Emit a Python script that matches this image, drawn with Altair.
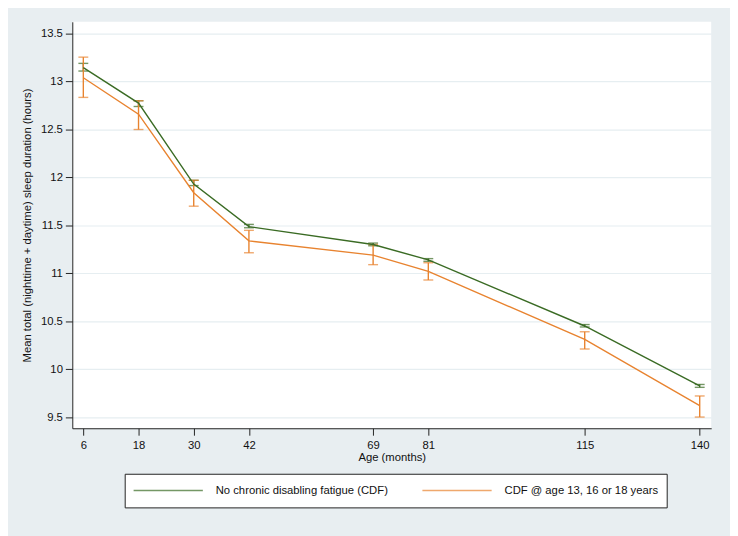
import altair as alt
import pandas as pd

ages = [6, 18, 30, 42, 69, 81, 115, 140]

no_cdf_mean = [13.145, 12.776, 11.93, 11.487, 11.30, 11.14, 10.45, 9.825]
no_cdf_lo = [13.11, 12.74, 11.915, 11.475, 11.287, 11.125, 10.44, 9.81]
no_cdf_hi = [13.19, 12.80, 11.97, 11.51, 11.315, 11.153, 10.465, 9.84]

cdf_mean = [13.04, 12.66, 11.84, 11.338, 11.19, 11.02, 10.31, 9.62]
cdf_lo = [12.835, 12.50, 11.70, 11.214, 11.09, 10.93, 10.21, 9.50]
cdf_hi = [13.255, 12.80, 11.97, 11.448, 11.30, 11.11, 10.39, 9.72]

groups = ["No chronic disabling fatigue (CDF)", "CDF @ age 13, 16 or 18 years"]
colors = ["#3a6b24", "#e8832f"]

x_ticks = ages
y_ticks = [9.5, 10, 10.5, 11, 11.5, 12, 12.5, 13, 13.5]

rows = []
for i, a in enumerate(ages):
    rows.append({"age": a, "group": groups[0],
                 "mean": no_cdf_mean[i], "lo": no_cdf_lo[i], "hi": no_cdf_hi[i]})
for i, a in enumerate(ages):
    rows.append({"age": a, "group": groups[1],
                 "mean": cdf_mean[i], "lo": cdf_lo[i], "hi": cdf_hi[i]})
df = pd.DataFrame(rows)

FONT = "Liberation Sans"
FS = 11.4
YTITLE = "Mean total (nighttime + daytime) sleep duration (hours)"

xscale = alt.Scale(domain=[3.6, 142.5], nice=False, zero=False)
yscale = alt.Scale(domain=[9.383, 13.624], nice=False, zero=False)
cscale = alt.Scale(domain=groups, range=colors)

xaxis = alt.Axis(values=x_ticks, title="Age (months)", grid=False,
                 tickSize=7, labelPadding=4, titlePadding=1,
                 domainColor="#222222", tickColor="#222222",
                 labelColor="#111111", titleColor="#111111",
                 labelFontSize=FS, titleFontSize=FS, labelFont=FONT,
                 titleFont=FONT, titleFontWeight="normal",
                 labelFlush=False, labelOverlap=False)

yaxis = alt.Axis(values=y_ticks, format="~g", title=YTITLE,
                 grid=True, gridColor="#e6eef1", gridWidth=1.2,
                 tickSize=7, labelPadding=3, titlePadding=8,
                 domainColor="#222222", tickColor="#222222",
                 labelColor="#111111", titleColor="#111111",
                 labelFontSize=FS, titleFontSize=FS, labelFont=FONT,
                 titleFont=FONT, titleFontWeight="normal",
                 labelFlush=False, labelOverlap=False)

legend = alt.Legend(title=None, orient="none", legendX=53, legendY=457,
                    direction="horizontal", columns=2, columnPadding=33,
                    symbolType="stroke", symbolSize=4900, symbolStrokeWidth=1.5,
                    clipHeight=18,
                    labelOffset=12, labelFontSize=FS, labelFont=FONT,
                    labelColor="#111111", labelLimit=400,
                    fillColor="white", strokeColor="#222222", padding=8)

color = alt.Color("group:N", scale=cscale, sort=groups, legend=legend)

base = alt.Chart(df)

bars = base.mark_errorbar(ticks={"size": 10}, thickness=1.4).encode(
    x=alt.X("age:Q", scale=xscale, axis=xaxis),
    y=alt.Y("lo:Q", scale=yscale, axis=yaxis, title=YTITLE),
    y2="hi:Q",
    color=color,
)

lines = base.mark_line(strokeWidth=1.4).encode(
    x=alt.X("age:Q", scale=xscale, axis=xaxis),
    y=alt.Y("mean:Q", scale=yscale, axis=yaxis, title=YTITLE),
    color=color,
    order=alt.Order("age:Q"),
)

chart = alt.layer(bars, lines).properties(
    width=646, height=411,
    background="#e8eef1",
    padding={"left": 65, "top": 11, "right": 19, "bottom": 106},
    autosize=alt.AutoSizeParams(type="none"),
).configure_view(fill="white", stroke=None)

chart.save("out.html", embed_options={"renderer": "svg", "actions": False})
